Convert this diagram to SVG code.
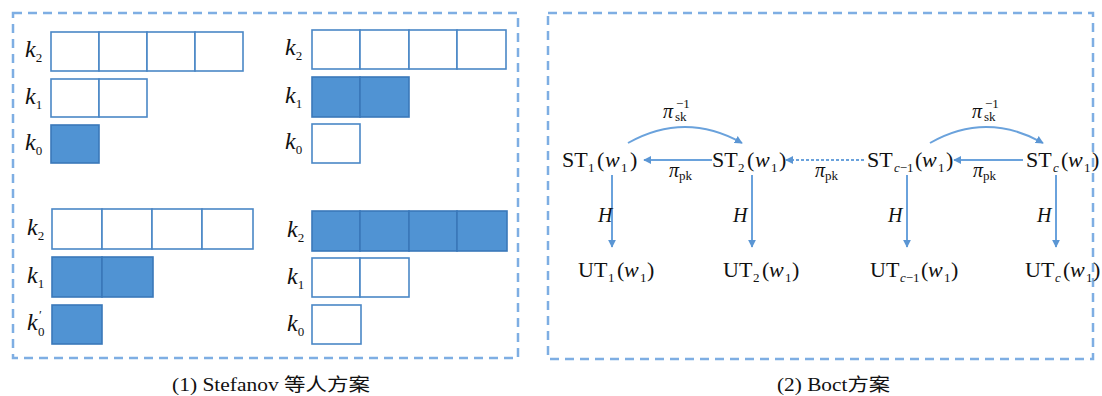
<svg xmlns="http://www.w3.org/2000/svg" width="1102" height="396" viewBox="0 0 1102 396">
<defs>
<marker id="ah" viewBox="0 0 10 10" refX="9" refY="5" markerWidth="8" markerHeight="8" markerUnits="userSpaceOnUse" orient="auto">
<path d="M0,0 L10,5 L0,10 z" fill="#5b96d4"/>
</marker>
</defs>
<rect width="1102" height="396" fill="#ffffff"/>

<g id="frames" fill="none" stroke="#7eaee3" stroke-width="2.5" stroke-dasharray="9 6">
<rect x="13" y="13" width="505" height="345"/>
<rect x="548" y="13" width="545" height="346"/>
</g>

<g id="panel1">
<g id="tl">
<g fill="#ffffff" stroke="#4a87c6" stroke-width="1.6">
<rect x="51" y="32" width="48" height="39"/><rect x="99" y="32" width="48" height="39"/><rect x="147" y="32" width="48" height="39"/><rect x="195" y="32" width="48" height="39"/>
<rect x="51" y="79" width="48" height="38"/><rect x="99" y="79" width="48" height="38"/>
</g>
<g fill="#5093d3" stroke="#3a78ba" stroke-width="1.6"><rect x="51" y="125" width="48" height="38"/></g>
<g fill="#111" font-size="24" font-style="italic">
<text style="font-family:'Liberation Serif',serif !important" x="25" y="57">k<tspan font-size="13" font-style="normal" dy="5">2</tspan></text>
<text style="font-family:'Liberation Serif',serif !important" x="25" y="104">k<tspan font-size="13" font-style="normal" dy="5">1</tspan></text>
<text style="font-family:'Liberation Serif',serif !important" x="25" y="150">k<tspan font-size="13" font-style="normal" dy="5">0</tspan></text>
</g>
</g>
<g id="tr">
<g fill="#ffffff" stroke="#4a87c6" stroke-width="1.6">
<rect x="312" y="30" width="48" height="39"/><rect x="360" y="30" width="49" height="39"/><rect x="409" y="30" width="48" height="39"/><rect x="457" y="30" width="49" height="39"/>
<rect x="312" y="124" width="48" height="39"/>
</g>
<g fill="#5093d3" stroke="#3a78ba" stroke-width="1.6"><rect x="312" y="77" width="48" height="40"/><rect x="360" y="77" width="49" height="40"/></g>
<g fill="#111" font-size="24" font-style="italic">
<text style="font-family:'Liberation Serif',serif !important" x="285" y="55">k<tspan font-size="13" font-style="normal" dy="5">2</tspan></text>
<text style="font-family:'Liberation Serif',serif !important" x="285" y="103">k<tspan font-size="13" font-style="normal" dy="5">1</tspan></text>
<text style="font-family:'Liberation Serif',serif !important" x="285" y="149">k<tspan font-size="13" font-style="normal" dy="5">0</tspan></text>
</g>
</g>
<g id="bl">
<g fill="#ffffff" stroke="#4a87c6" stroke-width="1.6">
<rect x="52" y="209" width="50" height="40"/><rect x="102" y="209" width="50" height="40"/><rect x="152" y="209" width="50" height="40"/><rect x="202" y="209" width="51" height="40"/>
</g>
<g fill="#5093d3" stroke="#3a78ba" stroke-width="1.6">
<rect x="52" y="257" width="50" height="40"/><rect x="102" y="257" width="51" height="40"/>
<rect x="52" y="305" width="50" height="39"/>
</g>
<g fill="#111" font-size="24" font-style="italic">
<text style="font-family:'Liberation Serif',serif !important" x="27" y="235">k<tspan font-size="13" font-style="normal" dy="5">2</tspan></text>
<text style="font-family:'Liberation Serif',serif !important" x="27" y="283">k<tspan font-size="13" font-style="normal" dy="5">1</tspan></text>
<text style="font-family:'Liberation Serif',serif !important" x="27" y="330">k<tspan font-size="13" font-style="normal" x="38" dy="6">0</tspan><tspan font-size="13" font-style="normal" x="39" dy="-17">′</tspan></text>
</g>
</g>
<g id="br">
<g fill="#5093d3" stroke="#3a78ba" stroke-width="1.6">
<rect x="312" y="211" width="48" height="40"/><rect x="360" y="211" width="49" height="40"/><rect x="409" y="211" width="48" height="40"/><rect x="457" y="211" width="50" height="40"/>
</g>
<g fill="#ffffff" stroke="#4a87c6" stroke-width="1.6">
<rect x="312" y="258" width="48" height="39"/><rect x="360" y="258" width="49" height="39"/>
<rect x="312" y="305" width="49" height="39"/>
</g>
<g fill="#111" font-size="24" font-style="italic">
<text style="font-family:'Liberation Serif',serif !important" x="287" y="237">k<tspan font-size="13" font-style="normal" dy="5">2</tspan></text>
<text style="font-family:'Liberation Serif',serif !important" x="287" y="284">k<tspan font-size="13" font-style="normal" dy="5">1</tspan></text>
<text style="font-family:'Liberation Serif',serif !important" x="287" y="331">k<tspan font-size="13" font-style="normal" dy="5">0</tspan></text>
</g>
</g>
<text style="font-family:'Liberation Serif','Noto Sans CJK SC',serif !important" font-size="18" fill="#111" x="172" y="391" textLength="198" lengthAdjust="spacingAndGlyphs">(1) Stefanov 等人方案</text>
</g>

<g id="panel2">
<g id="connectors">
<g fill="none" stroke="#6aa2dc" stroke-width="2">
<path d="M712,160 L644,160" marker-end="url(#ah)"/>
<path d="M864,160 L786,160" stroke-dasharray="3 2" marker-end="url(#ah)"/>
<path d="M1023,160 L954,160" marker-end="url(#ah)"/>
<path d="M628,143 Q685,111 742,143" marker-end="url(#ah)"/>
<path d="M930,143 Q986,111 1043,143" marker-end="url(#ah)"/>
<path d="M612,175 L612,247" marker-end="url(#ah)"/>
<path d="M752,175 L752,247" marker-end="url(#ah)"/>
<path d="M907,175 L907,247" marker-end="url(#ah)"/>
<path d="M1056,175 L1056,247" marker-end="url(#ah)"/>
</g>
<g fill="#111" font-size="20" font-style="italic">
<text style="font-family:'Liberation Serif',serif !important" x="663" y="118">π<tspan font-size="13" font-style="normal" x="675" dy="3">sk</tspan><tspan font-size="13" font-style="normal" x="676" dy="-13">−1</tspan></text>
<text style="font-family:'Liberation Serif',serif !important" x="972" y="118">π<tspan font-size="13" font-style="normal" x="984" dy="3">sk</tspan><tspan font-size="13" font-style="normal" x="985" dy="-13">−1</tspan></text>
<text style="font-family:'Liberation Serif',serif !important" x="669" y="177">π<tspan font-size="13" font-style="normal" dy="3">pk</tspan></text>
<text style="font-family:'Liberation Serif',serif !important" x="815" y="177">π<tspan font-size="13" font-style="normal" dy="3">pk</tspan></text>
<text style="font-family:'Liberation Serif',serif !important" x="973" y="177">π<tspan font-size="13" font-style="normal" dy="3">pk</tspan></text>
<text style="font-family:'Liberation Serif',serif !important" x="598" y="222">H</text>
<text style="font-family:'Liberation Serif',serif !important" x="733" y="222">H</text>
<text style="font-family:'Liberation Serif',serif !important" x="888" y="222">H</text>
<text style="font-family:'Liberation Serif',serif !important" x="1037" y="222">H</text>
</g>
</g>

<g fill="#111" font-size="22">
<g id="st1"><text style="font-family:'Liberation Serif',serif !important" x="562" y="167">ST<tspan font-size="13" x="588" dy="5">1</tspan><tspan x="597" dy="-5">(</tspan><tspan font-style="italic" x="605">w</tspan><tspan font-size="13" x="621" dy="5">1</tspan><tspan x="630" dy="-5">)</tspan></text></g>
<g id="st2"><text style="font-family:'Liberation Serif',serif !important" x="712" y="167">ST<tspan font-size="13" x="738" dy="5">2</tspan><tspan x="747" dy="-5">(</tspan><tspan font-style="italic" x="755">w</tspan><tspan font-size="13" x="771" dy="5">1</tspan><tspan x="779" dy="-5">)</tspan></text></g>
<g id="stc1"><text style="font-family:'Liberation Serif',serif !important" x="867" y="167">ST<tspan font-size="13" font-style="italic" x="894" dy="5">c</tspan><tspan font-size="13">−1</tspan><tspan x="915" dy="-5">(</tspan><tspan font-style="italic" x="922">w</tspan><tspan font-size="13" x="938" dy="5">1</tspan><tspan x="946" dy="-5">)</tspan></text></g>
<g id="stc"><text style="font-family:'Liberation Serif',serif !important" x="1026" y="167">ST<tspan font-size="13" font-style="italic" x="1053" dy="5">c</tspan><tspan x="1061" dy="-5">(</tspan><tspan font-style="italic" x="1068">w</tspan><tspan font-size="13" x="1084" dy="5">1</tspan><tspan x="1092" dy="-5">)</tspan></text></g>
<g id="ut1"><text style="font-family:'Liberation Serif',serif !important" x="578" y="277">UT<tspan font-size="13" x="608" dy="5">1</tspan><tspan x="617" dy="-5">(</tspan><tspan font-style="italic" x="624">w</tspan><tspan font-size="13" x="640" dy="5">1</tspan><tspan x="647" dy="-5">)</tspan></text></g>
<g id="ut2"><text style="font-family:'Liberation Serif',serif !important" x="723" y="277">UT<tspan font-size="13" x="753" dy="5">2</tspan><tspan x="762" dy="-5">(</tspan><tspan font-style="italic" x="769">w</tspan><tspan font-size="13" x="785" dy="5">1</tspan><tspan x="792" dy="-5">)</tspan></text></g>
<g id="utc1"><text style="font-family:'Liberation Serif',serif !important" x="870" y="277">UT<tspan font-size="13" font-style="italic" x="900" dy="5">c</tspan><tspan font-size="13">−1</tspan><tspan x="921" dy="-5">(</tspan><tspan font-style="italic" x="928">w</tspan><tspan font-size="13" x="944" dy="5">1</tspan><tspan x="951" dy="-5">)</tspan></text></g>
<g id="utc"><text style="font-family:'Liberation Serif',serif !important" x="1025" y="277">UT<tspan font-size="13" font-style="italic" x="1055" dy="5">c</tspan><tspan x="1063" dy="-5">(</tspan><tspan font-style="italic" x="1070">w</tspan><tspan font-size="13" x="1086" dy="5">1</tspan><tspan x="1093" dy="-5">)</tspan></text></g>
</g>

<text style="font-family:'Liberation Serif','Noto Sans CJK SC',serif !important" font-size="18" fill="#111" x="777" y="391" textLength="113" lengthAdjust="spacingAndGlyphs">(2) Boct方案</text>
</g>
</svg>
